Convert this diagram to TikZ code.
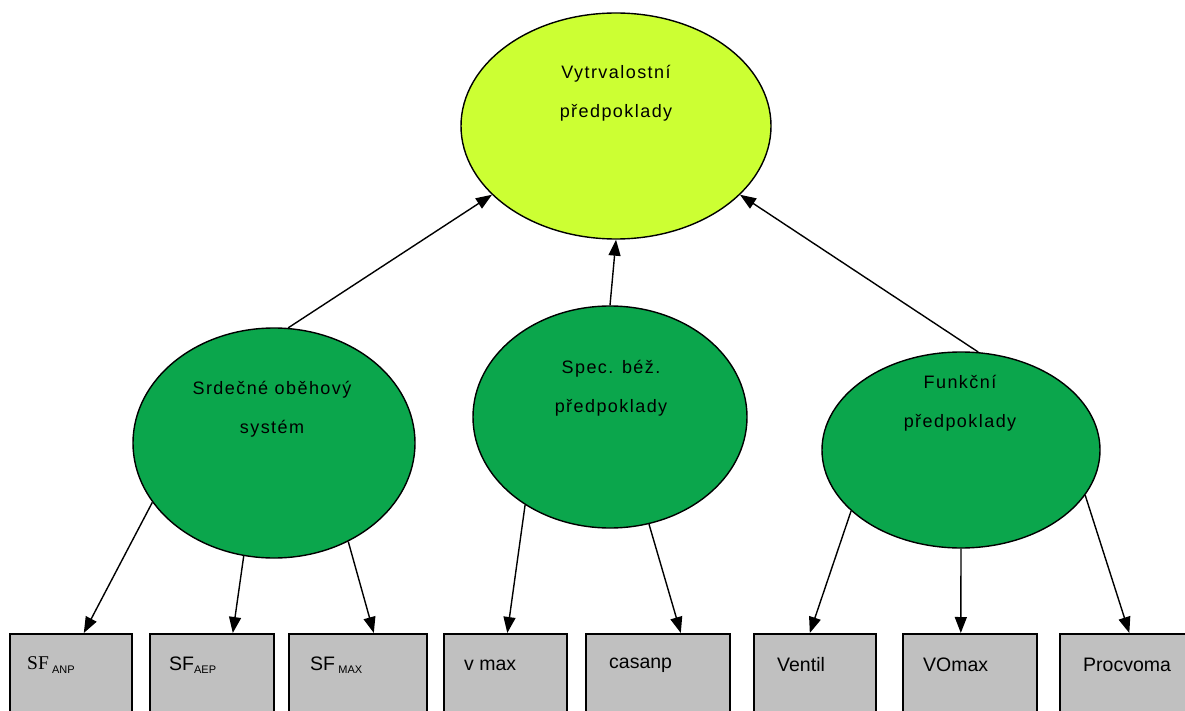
\documentclass[tikz,border=0pt]{standalone}
\usepackage{fontspec}
\setmainfont{Liberation Sans}
\newfontfamily\serifface{Liberation Serif}
\usetikzlibrary{shapes.geometric,arrows.meta}
\definecolor{limefill}{HTML}{CCFF33}
\definecolor{greenfill}{HTML}{0BA64C}
\definecolor{boxfill}{HTML}{C0C0C0}
\tikzset{
  oval/.style={ellipse, draw=black, line width=1.4pt, inner sep=0pt},
  topoval/.style={oval, fill=limefill},
  suboval/.style={oval, fill=greenfill},
  ovaltext/.style={align=center, inner sep=0pt,
    font=\fontsize{18}{39}\selectfont\addfontfeature{LetterSpace=8}},
  leafbox/.style={rectangle, draw=black, line width=1.6pt, fill=boxfill,
    anchor=north west, minimum height=95pt, inner sep=0pt},
  leaftext/.style={anchor=west, inner sep=0pt, font=\fontsize{19.5}{21}\selectfont},
  link/.style={draw=black, line width=1.4pt,
    -{Triangle[length=16pt,width=12pt]}},
}
\newcommand{\subtag}[1]{\raisebox{-0.3ex}{\fontsize{11}{11}\selectfont #1}}
\begin{document}
\begin{tikzpicture}[x=1pt,y=-1pt]
\useasboundingbox (0,0) rectangle (1185,711);
\clip (0,0) rectangle (1185,711);
\fill[white] (0,0) rectangle (1185,711);

% ovals
\node[topoval, minimum width=310pt, minimum height=226pt] (top) at (616,126) {};
\node[suboval, minimum width=282pt, minimum height=230pt] (heart) at (274,443) {};
\node[suboval, minimum width=274pt, minimum height=222pt] (run) at (610,417) {};
\node[suboval, minimum width=278pt, minimum height=196pt] (func) at (961,450) {};

\node[ovaltext] (toptxt) at (616,93) {Vytrvalostní\\předpoklady};
\node[ovaltext] (hearttxt) at (272,409) {Srdečné oběhový\\systém};
\node[ovaltext] (runtxt) at (611,388) {Spec. béž.\\předpoklady};
\node[ovaltext] (functxt) at (960,403) {Funkční\\předpoklady};

% leaf boxes
\node[leafbox, minimum width=122pt] (b1) at (9,633) {};
\node[leafbox, minimum width=124pt] (b2) at (149,633) {};
\node[leafbox, minimum width=138pt] (b3) at (288,633) {};
\node[leafbox, minimum width=123pt] (b4) at (443,633) {};
\node[leafbox, minimum width=144pt] (b5) at (585,633) {};
\node[leafbox, minimum width=122pt] (b6) at (753,633) {};
\node[leafbox, minimum width=134pt] (b7) at (902,633) {};
\node[leafbox, minimum width=135pt] (b8) at (1059,633) {};

\node[leaftext] (t1) at ([xshift=18pt,yshift=-32pt]b1.north west) {{\serifface SF}\,\subtag{ANP}};
\node[leaftext] (t2) at ([xshift=20pt,yshift=-32pt]b2.north west) {SF\subtag{AEP}};
\node[leaftext] (t3) at ([xshift=22pt,yshift=-32pt]b3.north west) {SF\,\subtag{MAX}};
\node[leaftext] (t4) at ([xshift=21pt,yshift=-32pt]b4.north west) {v max};
\node[leaftext] (t5) at ([xshift=24pt,yshift=-32pt]b5.north west) {casanp};
\node[leaftext] (t6) at ([xshift=24pt,yshift=-32pt]b6.north west) {Ventil};
\node[leaftext] (t7) at ([xshift=21pt,yshift=-32pt]b7.north west) {VOmax};
\node[leaftext] (t8) at ([xshift=24pt,yshift=-32pt]b8.north west) {Procvoma};

% upward connectors
\draw[link] (heart.83) -- (top.209);
\draw[link] (run.north) -- (top.south);
\draw[link] (func.80) -- (top.331);

% downward connectors
\draw[link] (heart.206) -- ([xshift=13pt]b1.north);
\draw[link] (heart.255) -- ([xshift=21pt]b2.north);
\draw[link] (heart.307) -- ([xshift=16pt]b3.north);
\draw[link] (run.226) -- ([xshift=2pt]b4.north);
\draw[link] (run.290) -- ([xshift=23pt]b5.north);
\draw[link] (func.209) -- ([xshift=-5pt]b6.north);
\draw[link] (func.south) -- ([xshift=-9pt]b7.north);
\draw[link] (func.340) -- ([xshift=2pt]b8.north);
\end{tikzpicture}
\end{document}
